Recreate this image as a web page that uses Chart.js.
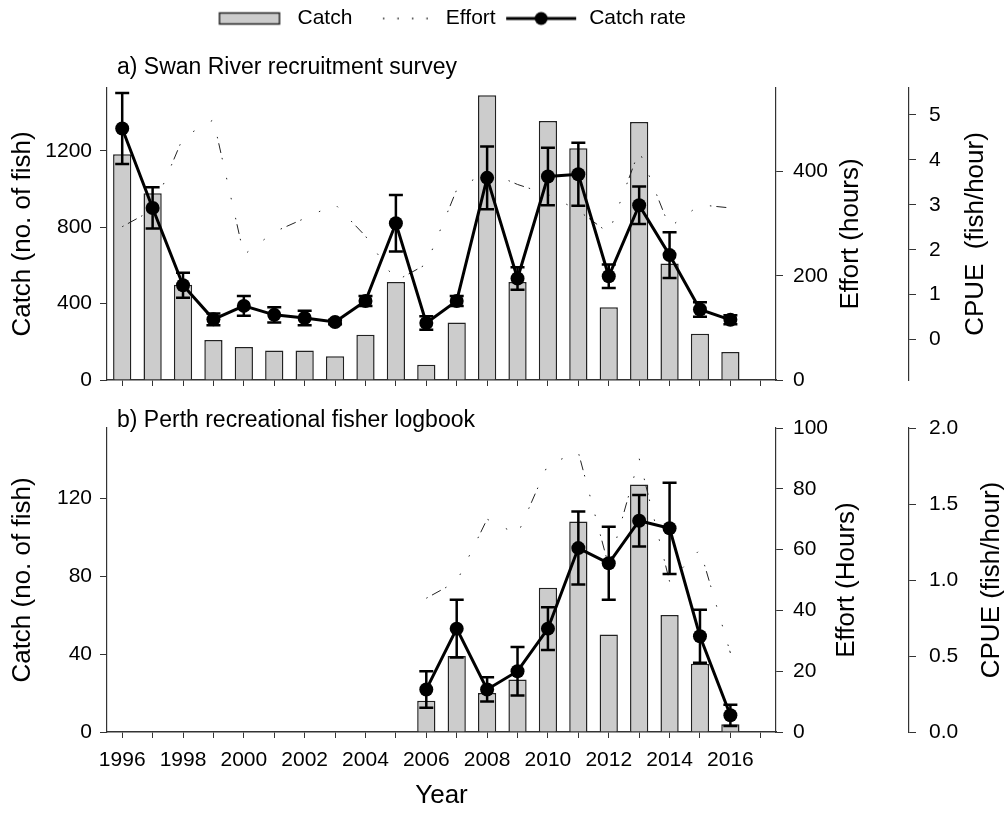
<!DOCTYPE html>
<html>
<head>
<meta charset="utf-8">
<title>Catch, effort and catch rate</title>
<script src="https://cdn.jsdelivr.net/npm/chart.js@4.4.1/dist/chart.umd.min.js"></script>
<style>
  body { margin: 0; background: #fff; }
  #wrap { position: relative; width: 1008px; height: 813px; }
  canvas { position: absolute; left: 0; }
  #topChart { top: 0; }
  #bottomChart { top: 400px; }
</style>
</head>
<body>
<div id="wrap">
  <canvas id="topChart" width="1008" height="400"></canvas>
  <canvas id="bottomChart" width="1008" height="413"></canvas>
</div>
<script>
// ---- data ----
const years = [1996, 1997, 1998, 1999, 2000, 2001, 2002, 2003, 2004, 2005, 2006,
               2007, 2008, 2009, 2010, 2011, 2012, 2013, 2014, 2015, 2016];
const tickYears = [1996, 1997, 1998, 1999, 2000, 2001, 2002, 2003, 2004, 2005, 2006,
                   2007, 2008, 2009, 2010, 2011, 2012, 2013, 2014, 2015, 2016, 2017];

// a) Swan River recruitment survey
const swanCatch = [1183, 978, 499, 209, 173, 154, 154, 125, 237, 514, 80,
                   301, 1492, 513, 1357, 1214, 381, 1352, 611, 242, 147];
const swanEffort = [294, 326, 465, 499, 240, 284, 310, 337, 276, 190, 222,
                    365, 400, 375, 356, 325, 282, 440, 293, 336, 330];
const swanCpue = [4.70, 2.93, 1.21, 0.45, 0.75, 0.55, 0.48, 0.39, 0.86, 2.59, 0.37,
                  0.86, 3.60, 1.36, 3.63, 3.68, 1.41, 2.99, 1.88, 0.67, 0.44];
const swanCpueSe = [0.79, 0.46, 0.28, 0.13, 0.22, 0.17, 0.16, 0.05, 0.11, 0.63, 0.15,
                    0.11, 0.70, 0.25, 0.64, 0.70, 0.26, 0.42, 0.51, 0.16, 0.10];

// b) Perth recreational fisher logbook (starts 2006)
const perthCatch = [null, null, null, null, null, null, null, null, null, null, 16,
                    39, 20, 27, 74, 108, 50, 127, 60, 35, 4];
const perthEffort = [null, null, null, null, null, null, null, null, null, null, 44,
                     49.5, 70, 65, 88, 92, 54.5, 90, 49.5, 60, 26];
const perthCpue = [null, null, null, null, null, null, null, null, null, null, 0.28,
                   0.68, 0.28, 0.40, 0.68, 1.21, 1.11, 1.39, 1.34, 0.63, 0.11];
const perthCpueSe = [null, null, null, null, null, null, null, null, null, null, 0.12,
                     0.19, 0.08, 0.16, 0.14, 0.24, 0.24, 0.17, 0.30, 0.175, 0.07];

// tick labels
const swanCatchTicks = [0, 400, 800, 1200];
const swanEffortTicks = [0, 200, 400];
const swanCpueTicks = [0, 1, 2, 3, 4, 5];
const perthCatchTicks = [0, 40, 80, 120];
const perthEffortTicks = [0, 20, 40, 60, 80, 100];
const perthCpueTicks = [0, 0.5, 1, 1.5, 2];

const FONT = '"Liberation Sans", Arial, sans-serif';
Chart.defaults.font.family = FONT;
Chart.defaults.font.size = 21;
Chart.defaults.color = "#000";

const axisColor = "#333";
const barFill = "#cccccc";
const effortDash = [1.5, 5, 10, 5, 1.5, 19, 1.5, 19, 1.5, 19];

function points(values) {
  return years.map((yr, i) => ({ x: yr, y: values[i] }));
}

function fixedTicks(values) {
  return (scale) => {
    scale.ticks = values.map((v) => ({ value: v }));
  };
}

function yAxis(position, min, max, ticks, width, padding, fmt) {
  return {
    position: position,
    min: min,
    max: max,
    afterBuildTicks: fixedTicks(ticks),
    afterFit: (scale) => {
      scale.width = width;
      // end labels are not at the axis ends, so no extra room needed
      scale.paddingTop = 0;
      scale.paddingBottom = 0;
    },
    grid: { drawOnChartArea: false, tickLength: 7, color: axisColor },
    border: { color: axisColor, width: 1.2 },
    ticks: { padding: padding, callback: fmt || ((v) => String(v)) },
  };
}

function xAxis(height, showLabels) {
  return {
    type: "linear",
    min: 1995.5,
    max: 2017.5,
    offset: false,
    afterBuildTicks: fixedTicks(tickYears),
    afterFit: (scale) => {
      scale.height = height;
    },
    grid: { drawOnChartArea: false, offset: false, tickLength: 6, color: axisColor },
    border: { color: axisColor, width: 1.5 },
    ticks: {
      display: showLabels,
      autoSkip: false,
      maxRotation: 0,
      minRotation: 0,
      padding: 10,
      callback: (v) => (v % 2 === 0 && v <= 2016 ? String(v) : ""),
    },
    title: {
      display: showLabels,
      text: "Year",
      font: { size: 26 },
      padding: { top: 0, bottom: 2 },
    },
  };
}

function datasets(catchVals, effortVals, cpueVals) {
  return [
    {
      type: "line",
      label: "Catch rate",
      data: points(cpueVals),
      yAxisID: "y2",
      borderColor: "#000",
      borderWidth: 3,
      pointRadius: 7,
      pointBackgroundColor: "#000",
      pointBorderWidth: 0,
      order: 0,
    },
    {
      type: "line",
      label: "Effort",
      data: points(effortVals),
      yAxisID: "y1",
      borderColor: "#222",
      borderWidth: 1,
      borderDash: effortDash,
      pointRadius: 0,
      order: 1,
    },
    {
      type: "bar",
      label: "Catch",
      data: points(catchVals),
      yAxisID: "y",
      backgroundColor: barFill,
      borderColor: "#222",
      borderWidth: 1.5,
      barPercentage: 0.6,
      categoryPercentage: 1.0,
      order: 2,
    },
  ];
}

// error bars on the catch rate, drawn through the chart's scales
const errorBars = {
  id: "errorBars",
  afterDatasetsDraw(chart, args, opts) {
    const ctx = chart.ctx;
    const xs = chart.scales.x;
    const ys = chart.scales.y2;
    ctx.save();
    ctx.strokeStyle = "#000";
    ctx.lineWidth = 2.5;
    opts.values.forEach((v, i) => {
      if (v == null) return;
      const x = xs.getPixelForValue(years[i]);
      const hi = ys.getPixelForValue(v + opts.errors[i]);
      const lo = ys.getPixelForValue(v - opts.errors[i]);
      ctx.beginPath();
      ctx.moveTo(x, hi);
      ctx.lineTo(x, lo);
      ctx.moveTo(x - 7, hi);
      ctx.lineTo(x + 7, hi);
      ctx.moveTo(x - 7, lo);
      ctx.lineTo(x + 7, lo);
      ctx.stroke();
    });
    ctx.restore();
  },
};

// panel label + right axis titles (these read bottom-to-top like the left one)
const panelText = {
  id: "panelText",
  afterDraw(chart, args, opts) {
    const ctx = chart.ctx;
    const area = chart.chartArea;
    ctx.save();
    ctx.fillStyle = "#000";
    ctx.textBaseline = "middle";
    ctx.font = "23px " + FONT;
    ctx.textAlign = "left";
    ctx.fillText(opts.label, area.left + 10, opts.labelY);
    ctx.font = "26px " + FONT;
    ctx.textAlign = "center";
    opts.titles.forEach((t) => {
      const scale = chart.scales[t.scale];
      ctx.save();
      ctx.translate(scale.left + t.offset, (area.top + area.bottom) / 2);
      ctx.rotate(-Math.PI / 2);
      ctx.fillText(t.text, 0, 0);
      ctx.restore();
    });
    ctx.restore();
  },
};

// legend spacing: push plot down and sit legend left of centre
const legendSpot = {
  id: "legendSpot",
  beforeInit(chart, args, opts) {
    const fit = chart.legend.fit;
    chart.legend.fit = function () {
      fit.call(this);
      this.height += opts.extra;
    };
  },
  afterLayout(chart, args, opts) {
    chart.legend.left += opts.shift;
    chart.legend.right += opts.shift;
  },
};

function legendIcon(draw) {
  const c = document.createElement("canvas");
  c.width = 80;
  c.height = 20;
  draw(c.getContext("2d"));
  return c;
}

const catchIcon = legendIcon((g) => {
  g.fillStyle = barFill;
  g.fillRect(10, 4.5, 60, 11);
  g.strokeStyle = "#222";
  g.lineWidth = 1.5;
  g.strokeRect(10, 4.5, 60, 11);
});
const effortIcon = legendIcon((g) => {
  g.strokeStyle = "#222";
  g.lineWidth = 1.5;
  g.setLineDash([1.5, 13]);
  g.beginPath();
  g.moveTo(25, 10);
  g.lineTo(72, 10);
  g.stroke();
});
const rateIcon = legendIcon((g) => {
  g.strokeStyle = "#000";
  g.lineWidth = 3;
  g.beginPath();
  g.moveTo(5, 10);
  g.lineTo(75, 10);
  g.stroke();
  g.beginPath();
  g.arc(40, 10, 6.5, 0, Math.PI * 2);
  g.fillStyle = "#000";
  g.fill();
});

new Chart(document.getElementById("topChart"), {
  type: "bar",
  data: { datasets: datasets(swanCatch, swanEffort, swanCpue) },
  options: {
    responsive: false,
    animation: false,
    events: [],
    layout: { padding: 0 },
    scales: {
      x: xAxis(20, false),
      y: Object.assign(yAxis("left", 0, 1530, swanCatchTicks, 107, 8), {
        title: { display: true, text: "Catch (no. of fish)", font: { size: 26 }, padding: { top: 7, bottom: 0 } },
      }),
      y1: yAxis("right", 0, 560, swanEffortTicks, 133, 10),
      y2: yAxis("right", -0.9, 5.6, swanCpueTicks, 99, 13),
    },
    plugins: {
      tooltip: { enabled: false },
      legend: {
        position: "top",
        labels: {
          usePointStyle: true,
          pointStyleWidth: 75,
          padding: 8,
          font: { size: 21 },
          generateLabels: () => [
            { text: "Catch", pointStyle: catchIcon, fillStyle: barFill, strokeStyle: "#222", lineWidth: 0, hidden: false },
            { text: "Effort", pointStyle: effortIcon, fillStyle: "#000", strokeStyle: "#222", lineWidth: 0, hidden: false },
            { text: "Catch rate", pointStyle: rateIcon, fillStyle: "#000", strokeStyle: "#000", lineWidth: 0, hidden: false },
          ],
        },
      },
      legendSpot: { extra: 49, shift: -55 },
      errorBars: { values: swanCpue, errors: swanCpueSe },
      panelText: {
        label: "a) Swan River recruitment survey",
        labelY: 68,
        titles: [
          { scale: "y1", text: "Effort (hours)", offset: 75 },
          { scale: "y2", text: "CPUE  (fish/hour)", offset: 67 },
        ],
      },
    },
  },
  plugins: [legendSpot, errorBars, panelText],
});

new Chart(document.getElementById("bottomChart"), {
  type: "bar",
  data: { datasets: datasets(perthCatch, perthEffort, perthCpue) },
  options: {
    responsive: false,
    animation: false,
    events: [],
    layout: { padding: { top: 28, left: 0, right: 0, bottom: 0 } },
    scales: {
      x: xAxis(81, true),
      y: Object.assign(yAxis("left", 0, 156, perthCatchTicks, 107, 8), {
        title: { display: true, text: "Catch (no. of fish)", font: { size: 26 }, padding: { top: 7, bottom: 0 } },
      }),
      y1: yAxis("right", 0, 100, perthEffortTicks, 133, 10),
      y2: yAxis("right", 0, 2, perthCpueTicks, 99, 13, (v) => v.toFixed(1)),
    },
    plugins: {
      tooltip: { enabled: false },
      legend: { display: false },
      errorBars: { values: perthCpue, errors: perthCpueSe },
      panelText: {
        label: "b) Perth recreational fisher logbook",
        labelY: 21,
        titles: [
          { scale: "y1", text: "Effort (Hours)", offset: 71 },
          { scale: "y2", text: "CPUE (fish/hour)", offset: 83 },
        ],
      },
    },
  },
  plugins: [errorBars, panelText],
});
</script>
</body>
</html>
